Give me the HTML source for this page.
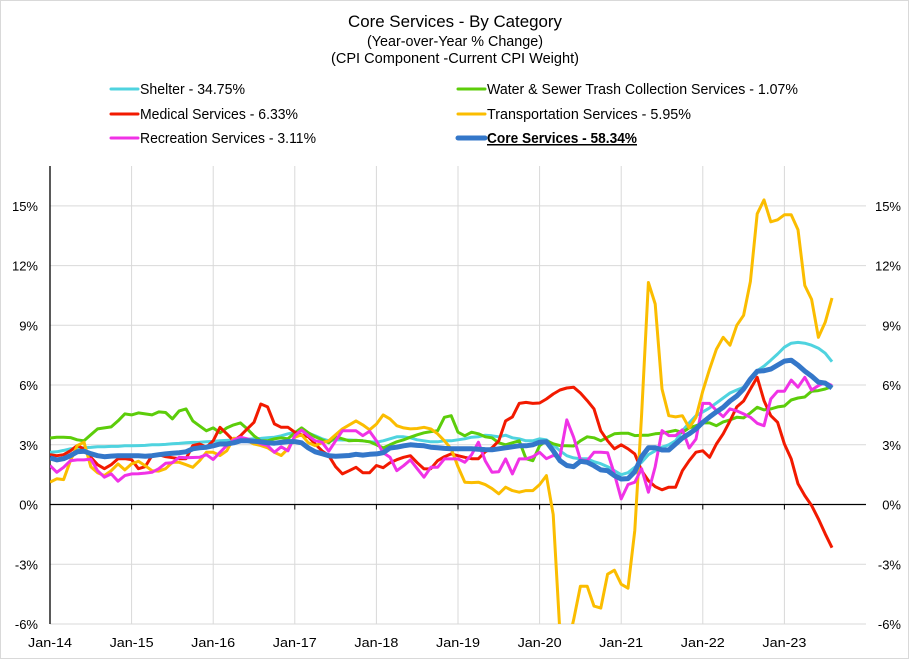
<!DOCTYPE html>
<html><head><meta charset="utf-8"><style>
html,body{margin:0;padding:0;background:#fff;}
svg{display:block;font-family:"Liberation Sans",sans-serif;}
</style></head><body>
<svg id="chart" width="910" height="660" viewBox="0 0 910 660">
<rect x="0.5" y="0.5" width="908" height="658" fill="#fff" stroke="#d9d9d9"/>
<g>
<text x="455" y="27" text-anchor="middle" font-size="17" textLength="214" lengthAdjust="spacingAndGlyphs" fill="#000">Core Services - By Category</text>
<text x="455" y="46" text-anchor="middle" font-size="15" textLength="176" lengthAdjust="spacingAndGlyphs" fill="#000">(Year-over-Year % Change)</text>
<text x="455" y="63" text-anchor="middle" font-size="15" textLength="248" lengthAdjust="spacingAndGlyphs" fill="#000">(CPI Component -Current CPI Weight)</text>
</g>
<g id="legend"></g>
<g id="grid"></g>
<g id="axes"></g>
<g id="series"></g>
</svg>
<script>
const seriesNames = ["Shelter - 34.75%","Water & Sewer Trash Collection Services - 1.07%","Medical Services - 6.33%","Transportation Services - 5.95%","Recreation Services - 3.11%","Core Services - 58.34%"];
const seriesColors = ["#4fd3df","#5ccd0a","#f21a00","#fbbd00","#f032e6","#3477c9"];
const xTickLabels = ["Jan-14","Jan-15","Jan-16","Jan-17","Jan-18","Jan-19","Jan-20","Jan-21","Jan-22","Jan-23"];
const yTickValues = [-6,-3,0,3,6,9,12,15];
const shelter = [2.63,2.65,2.72,2.8,2.82,2.85,2.87,2.9,2.9,2.92,2.92,2.95,
2.95,2.96,2.97,3.0,3.0,3.02,3.05,3.07,3.1,3.12,3.13,3.15,
3.17,3.2,3.22,3.24,3.25,3.28,3.3,3.32,3.35,3.38,3.45,3.55,
3.62,3.7,3.58,3.45,3.3,3.2,3.25,3.24,3.24,3.22,3.2,3.15,
3.13,3.2,3.3,3.4,3.4,3.35,3.25,3.2,3.15,3.15,3.2,3.2,
3.25,3.3,3.38,3.4,3.48,3.45,3.4,3.48,3.35,3.3,3.2,3.2,
3.3,3.25,3.0,2.7,2.45,2.34,2.3,2.3,2.15,2.05,1.9,1.7,
1.5,1.6,1.87,2.12,2.5,2.7,2.88,3.0,3.2,3.7,4.1,4.46,
4.65,4.85,5.1,5.35,5.6,5.75,5.89,6.3,6.72,6.95,7.25,7.56,
7.9,8.1,8.14,8.1,8.0,7.85,7.6,7.17];
const water = [3.34,3.38,3.38,3.36,3.25,3.2,3.5,3.8,3.85,3.9,4.2,4.55,
4.5,4.6,4.55,4.5,4.65,4.62,4.3,4.7,4.8,4.2,3.95,3.7,
3.85,3.6,3.85,4.0,4.1,3.8,3.45,3.2,3.2,3.3,3.35,3.3,
3.6,3.85,3.6,3.4,3.25,3.1,3.4,3.3,3.2,3.22,3.2,3.15,
3.0,2.84,3.0,3.15,3.25,3.38,3.5,3.6,3.66,3.7,4.38,4.46,
3.63,3.45,3.63,3.55,3.4,3.35,3.1,3.0,3.1,3.2,2.3,2.2,
2.96,3.2,3.05,2.96,2.95,2.94,3.2,3.4,3.35,3.2,3.38,3.55,
3.58,3.58,3.46,3.48,3.48,3.55,3.58,3.65,3.72,3.62,3.85,3.96,
4.1,4.1,3.96,4.15,4.25,4.38,4.35,4.6,4.88,4.75,4.8,4.9,
4.95,5.25,5.35,5.4,5.69,5.72,5.8,5.92];
const medical = [2.5,2.45,2.5,2.7,2.96,2.8,2.37,2.0,1.8,2.0,2.3,2.3,
2.25,1.8,1.9,2.46,2.5,2.4,2.35,2.3,2.3,2.96,3.04,2.88,
3.2,3.88,3.55,3.2,3.45,3.8,4.13,5.05,4.9,4.05,3.88,3.88,
3.63,3.5,3.4,3.04,2.7,2.45,1.9,1.54,1.7,1.87,1.6,1.6,
1.96,1.85,2.1,2.25,2.37,2.45,2.1,1.79,1.8,2.2,2.4,2.54,
2.45,2.37,2.3,2.3,2.65,2.85,3.2,4.2,4.4,5.08,5.13,5.08,
5.1,5.3,5.55,5.75,5.85,5.89,5.6,5.22,4.8,3.7,3.2,2.8,
3.0,2.8,2.54,1.7,1.2,0.9,0.74,0.87,0.87,1.7,2.2,2.63,
2.7,2.37,3.04,3.55,4.2,4.9,5.2,5.8,6.39,5.22,4.46,4.13,
3.04,2.29,1.04,0.45,-0.05,-0.72,-1.47,-2.17];
const transportation = [1.12,1.29,1.25,2.2,2.96,3.13,1.9,1.6,1.45,1.7,2.04,1.74,
2.04,2.17,1.95,1.7,1.68,1.8,2.12,2.12,2.0,1.87,2.2,2.62,
2.62,2.46,2.7,3.33,3.3,3.2,3.04,2.96,2.85,2.62,2.46,2.8,
3.38,3.5,3.1,2.96,3.1,3.2,3.5,3.8,4.0,4.2,4.0,3.75,
4.04,4.5,4.3,3.96,3.85,3.8,3.82,3.88,3.8,3.55,3.2,2.8,
1.9,1.12,1.1,1.12,1.0,0.8,0.54,0.87,0.7,0.62,0.7,0.7,
1.0,1.45,-0.5,-6.5,-7.2,-5.8,-4.1,-4.1,-5.1,-5.2,-3.5,-3.3,
-4.0,-4.2,-1.3,4.5,11.15,10.07,5.8,4.46,4.4,4.46,3.85,4.38,
5.7,6.8,7.8,8.4,8.0,9.0,9.5,11.2,14.6,15.3,14.2,14.3,
14.55,14.55,13.8,11.0,10.3,8.4,9.15,10.37];
const recreation = [1.96,1.62,1.87,2.2,2.24,2.24,2.28,1.7,1.37,1.54,1.17,1.45,
1.54,1.55,1.58,1.62,1.8,2.07,2.1,2.37,2.35,2.36,2.37,2.5,
2.26,2.62,2.96,3.24,3.38,3.3,3.2,3.05,2.96,2.62,2.9,2.7,
3.46,3.74,3.45,3.2,3.13,2.68,3.2,3.7,3.7,3.7,3.46,3.68,
3.2,2.6,2.37,1.7,1.95,2.24,1.8,1.37,1.87,1.87,2.29,2.29,
2.29,2.12,2.5,3.13,2.2,1.62,1.65,2.29,1.54,2.29,2.29,2.4,
2.62,2.3,2.46,2.4,4.25,3.38,2.25,2.2,2.62,2.62,2.6,1.54,
0.28,1.0,1.12,1.8,0.62,1.9,3.71,3.46,3.46,3.75,2.84,3.29,
5.08,5.08,4.72,4.41,4.8,4.7,4.55,4.38,4.08,3.96,5.3,5.69,
5.69,6.25,5.89,6.39,5.75,5.97,6.14,5.97];
const core = [2.34,2.24,2.3,2.45,2.65,2.68,2.55,2.45,2.4,2.43,2.45,2.45,
2.45,2.45,2.42,2.45,2.5,2.54,2.57,2.6,2.65,2.8,2.85,2.88,
2.95,3.04,3.04,3.1,3.2,3.2,3.18,3.15,3.1,3.08,3.12,3.16,
3.16,3.1,2.84,2.65,2.55,2.45,2.42,2.44,2.46,2.52,2.48,2.52,
2.54,2.6,2.84,2.88,2.95,3.0,2.97,2.95,2.88,2.85,2.82,2.8,
2.8,2.8,2.8,2.78,2.76,2.75,2.8,2.85,2.9,2.95,2.95,3.0,
3.13,3.15,2.7,2.2,1.96,1.9,2.17,2.12,1.95,1.74,1.7,1.45,
1.28,1.3,1.65,2.4,2.85,2.85,2.74,2.74,3.04,3.34,3.55,3.8,
4.13,4.4,4.65,4.88,5.2,5.45,5.8,6.3,6.69,6.72,6.8,7.0,
7.2,7.25,7.0,6.7,6.45,6.15,6.1,5.85];

const NS="http://www.w3.org/2000/svg";
const PL=50, PR=866, PT=166, PB=624, YMIN=-6, YMAX=17, MONTHS=120;
function xPos(m){return PL + m*(PR-PL)/MONTHS;}
function yPos(v){return PB - (v-YMIN)*(PB-PT)/(YMAX-YMIN);}
function mk(tag,attrs,parent){const e=document.createElementNS(NS,tag);for(const k in attrs)e.setAttribute(k,attrs[k]);parent.appendChild(e);return e;}

const grid=document.getElementById('grid'), axes=document.getElementById('axes'), ser=document.getElementById('series'), leg=document.getElementById('legend');
yTickValues.forEach(v=>{
  const y=yPos(v);
  if(v!==0){const l=mk('line',{x1:PL,x2:PR,y1:y,y2:y,stroke:'#d9d9d9','stroke-width':1},grid);
  
  }
  const t1=mk('text',{x:38,y:y+5,'text-anchor':'end','font-size':13,fill:'#000'},axes);
  t1.textContent=v+'%';
  
  
  const t2=mk('text',{x:901,y:y+5,'text-anchor':'end','font-size':13,fill:'#000'},axes);
  t2.textContent=v+'%';
  
  
});
xTickLabels.forEach((lab,i)=>{
  const x=xPos(i*12);
  if(i>0){const l=mk('line',{x1:x,x2:x,y1:PT,y2:PB,stroke:'#d9d9d9','stroke-width':1},grid);
  
  }
  const tk=mk('line',{x1:x,x2:x,y1:yPos(0),y2:yPos(0)+5,stroke:'#000','stroke-width':1},axes);
  
  
  const t=mk('text',{x:x,y:647,'text-anchor':'middle','font-size':13,fill:'#000',textLength:44,lengthAdjust:'spacingAndGlyphs'},axes);
  t.textContent=lab;
  
  
});
const ax0=mk('line',{x1:PL,x2:PR,y1:yPos(0),y2:yPos(0),stroke:'#000','stroke-width':1.3},axes);


const axl=mk('line',{x1:PL,x2:PL,y1:PT,y2:PB,stroke:'#000','stroke-width':1.3},axes);



const defs=mk('defs',{},document.getElementById('chart'));
const cp=mk('clipPath',{id:'plotclip'},defs);
mk('rect',{x:PL,y:PT,width:PR-PL,height:PB-PT},cp);
ser.setAttribute('clip-path','url(#plotclip)');

const allSeries=[shelter,water,medical,transportation,recreation,core];
const seriesKeys=['shelter','water-sewer','medical','transportation','recreation','core-services'];
allSeries.forEach((arr,i)=>{
  const d=arr.map((v,m)=>(m?'L':'M')+xPos(m).toFixed(1)+','+yPos(v).toFixed(1)).join(' ');
  const p=mk('path',{d:d,fill:'none',stroke:seriesColors[i],'stroke-width':i===5?5:3,'stroke-linejoin':'round'},ser);
  
  
});

// legend: series order shelter(L1), water(R1), medical(L2), transportation(R2), recreation(L3), core(R3)
const legPos=[[111,89],[458,89],[111,114],[458,114],[111,138],[458,138]];
const legLens=[105,311,158,204,176,150];
seriesNames.forEach((name,i)=>{
  const [x,y]=legPos[i];
  const g=mk('g',{},leg);
  
  
  mk('line',{x1:x,x2:x+27,y1:y,y2:y,stroke:seriesColors[i],'stroke-width':i===5?5:3,'stroke-linecap':'round'},g);
  const t=mk('text',{x:x+29,y:y+5,'font-size':15,fill:'#000',textLength:legLens[i],lengthAdjust:'spacingAndGlyphs'},g);
  if(i===5){t.setAttribute('font-weight','bold');t.setAttribute('text-decoration','underline');}
  t.textContent=name;
});
</script>
</body></html>
